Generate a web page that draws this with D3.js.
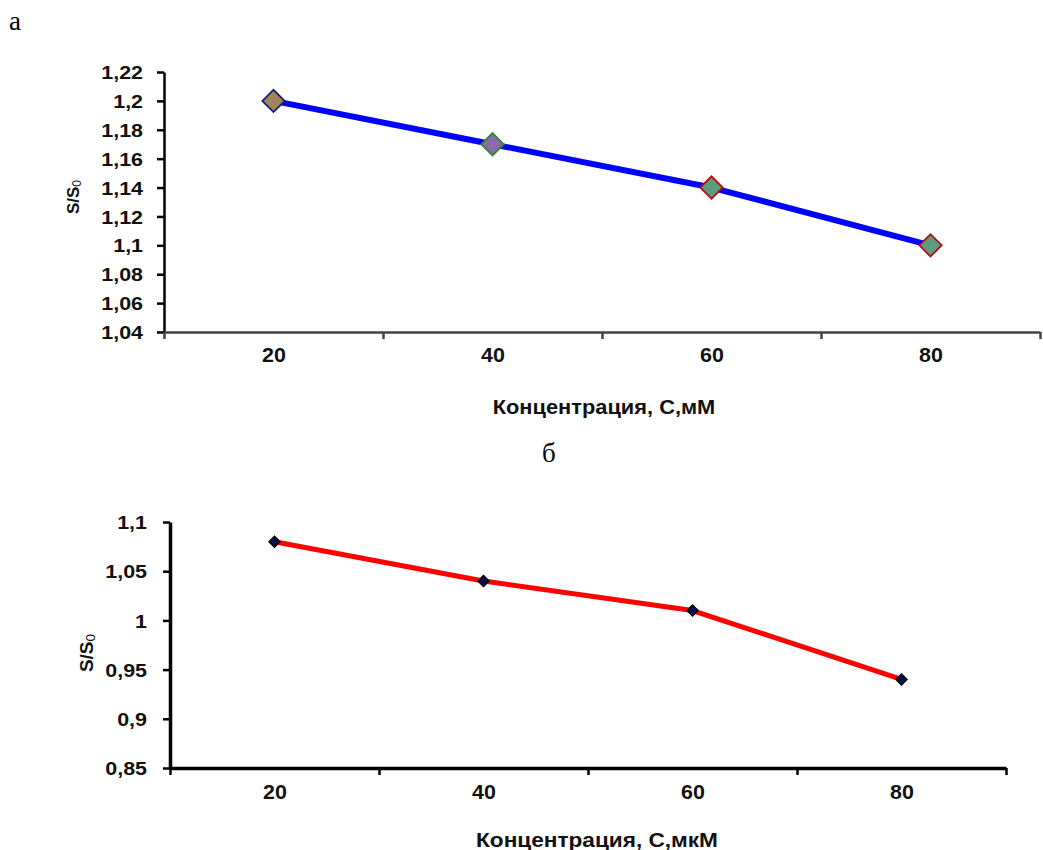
<!DOCTYPE html>
<html>
<head>
<meta charset="utf-8">
<script src="https://cdn.jsdelivr.net/npm/d3@7"></script>
<style>
  body { margin: 0; background: #fff; }
  svg text { font-family: "Liberation Sans", Arial, sans-serif; }
</style>
</head>
<body>
<svg id="chart" width="1043" height="850"></svg>
<script>
// data
const concentrations = [20, 40, 60, 80];
const ratioA = [1.2, 1.17, 1.14, 1.1];     // panel а, мМ
const ratioB = [1.08, 1.04, 1.01, 0.94];   // panel б, мкМ
const yTicksA = [1.04, 1.06, 1.08, 1.1, 1.12, 1.14, 1.16, 1.18, 1.2, 1.22];
const yTicksB = [0.85, 0.9, 0.95, 1, 1.05, 1.1];
const xBounds = [10, 30, 50, 70, 90];

const markerFillA = ["#a0855a", "#8a6aa8", "#5e9c80", "#5e9c80"];
const markerStrokeA = ["#1a1a70", "#2a8a2a", "#b01010", "#b01010"];

const svg = d3.select("#chart");
const fmt = d => d3.format(".2~f")(d).replace(".", ",");

// the original text is a little stretched horizontally
const SX = 1.16;

function drawPanel(opts) {
    const g = svg.append("g");
    const x = d3.scaleLinear().domain([10, 90]).range([opts.left, opts.right]);
    const y = d3.scaleLinear().domain(opts.yDomain).range([opts.bottom, opts.top]);

    // y axis
    const yAxis = g.append("g")
        .attr("transform", `translate(${opts.left},0)`)
        .call(d3.axisLeft(y).tickValues(opts.yTicks).tickFormat(fmt).tickSize(7).tickSizeOuter(0));
    yAxis.select(".domain").attr("stroke", "#000").attr("stroke-width", opts.axisWidth);
    yAxis.selectAll(".tick line").attr("stroke", "#000").attr("stroke-width", 2.5);
    yAxis.selectAll(".tick text")
        .attr("x", -opts.yLabelGap / SX)
        .attr("dy", "0.36em")
        .attr("transform", `scale(${SX},1)`)
        .attr("fill", "#111")
        .style("font-size", "18.5px")
        .style("font-weight", "bold");

    // x axis: ticks between categories
    const xAxis = g.append("g")
        .attr("transform", `translate(0,${opts.bottom})`)
        .call(d3.axisBottom(x).tickValues(xBounds).tickFormat("").tickSize(7).tickSizeOuter(0));
    xAxis.select(".domain").attr("stroke", opts.xAxisColor).attr("stroke-width", opts.axisWidth);
    xAxis.selectAll(".tick line").attr("stroke", opts.xAxisColor).attr("stroke-width", 2.5);

    const xLabels = g.append("g")
        .attr("transform", `translate(0,${opts.bottom})`)
        .call(d3.axisBottom(x).tickValues(concentrations).tickSize(0).tickPadding(opts.xLabelPad));
    xLabels.select(".domain").remove();
    xLabels.selectAll(".tick text")
        .attr("transform", "scale(1.1,1)")
        .attr("fill", "#111")
        .style("font-size", "19.5px")
        .style("font-weight", "bold");

    // axis titles
    g.append("text")
        .attr("transform", `translate(${(opts.left + opts.right) / 2 + opts.titleShift},${opts.xTitleY}) scale(${opts.titleScale},1)`)
        .attr("text-anchor", "middle")
        .attr("fill", "#111")
        .style("font-size", "19.5px")
        .style("font-weight", "bold")
        .text(opts.xTitle);

    const yt = g.append("text")
        .attr("transform", `translate(${opts.yTitleX},${opts.yTitleY}) rotate(-90)`)
        .attr("text-anchor", "middle")
        .attr("fill", "#111")
        .style("font-size", opts.yTitleSize + "px")
        .style("font-weight", "bold");
    yt.append("tspan").text("S/S");
    yt.append("tspan").attr("dy", 2).style("font-size", (opts.yTitleSize * 0.72) + "px").style("font-weight", "normal").text("0");

    // line + markers
    const pts = concentrations.map((c, i) => [x(c), y(opts.values[i])]);
    g.append("path")
        .datum(pts)
        .attr("d", d3.line())
        .attr("fill", "none")
        .attr("stroke", opts.lineColor)
        .attr("stroke-width", opts.lineWidth)
        .attr("stroke-linejoin", "round");

    g.selectAll(".marker")
        .data(pts)
        .enter().append("path")
        .attr("class", "marker")
        .attr("transform", d => `translate(${d[0]},${d[1]}) rotate(45)`)
        .attr("d", d3.symbol(d3.symbolSquare, opts.markerSize)())
        .attr("fill", (d, i) => opts.markerFill[i])
        .attr("stroke", (d, i) => opts.markerStroke[i])
        .attr("stroke-width", 1.8);
}

// panel letters
svg.append("text").attr("x", 9).attr("y", 30)
    .style("font-family", "'Liberation Serif', 'Times New Roman', serif")
    .style("font-size", "27px").text("а");
svg.append("text").attr("x", 542).attr("y", 462)
    .style("font-family", "'Liberation Serif', 'Times New Roman', serif")
    .style("font-size", "27px").text("б");

drawPanel({
    left: 164, right: 1040, top: 72, bottom: 332,
    yDomain: [1.04, 1.22], yTicks: yTicksA, values: ratioA,
    axisWidth: 2.5, xAxisColor: "#444", xLabelPad: 16, yLabelGap: 21,
    xTitle: "Концентрация, С,мМ", xTitleY: 414, titleShift: 2, titleScale: 1.12,
    yTitleX: 79, yTitleY: 197, yTitleSize: 17,
    lineColor: "#0000ff", lineWidth: 6,
    markerSize: 250, markerFill: markerFillA, markerStroke: markerStrokeA
});

drawPanel({
    left: 170, right: 1006, top: 522, bottom: 768,
    yDomain: [0.85, 1.1], yTicks: yTicksB, values: ratioB,
    axisWidth: 3.5, xAxisColor: "#000", xLabelPad: 17, yLabelGap: 23,
    xTitle: "Концентрация, С,мкМ", xTitleY: 847, titleShift: 9, titleScale: 1.16,
    yTitleX: 93, yTitleY: 653, yTitleSize: 19,
    lineColor: "#ff0000", lineWidth: 5,
    markerSize: 55, markerFill: concentrations.map(() => "#0a0a5a"), markerStroke: concentrations.map(() => "#000")
});
</script>
</body>
</html>
